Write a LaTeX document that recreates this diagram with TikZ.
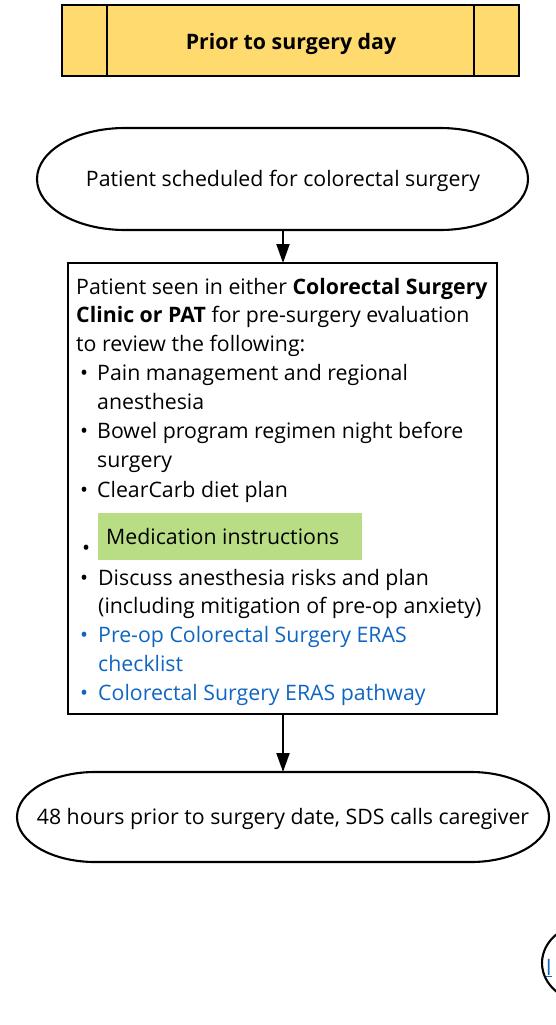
\documentclass[tikz,border=0pt]{standalone}
\usepackage{fontspec}
\setmainfont{Open Sans}
\usetikzlibrary{arrows.meta}
\definecolor{hdr}{HTML}{FFDB6F}
\definecolor{hl}{HTML}{B8DD85}
\definecolor{lnk}{HTML}{0F66C2}
\tikzset{
  txt/.style={anchor=base west, inner sep=0pt, font=\fontsize{21.3}{29}\selectfont},
  ctr/.style={anchor=base, inner sep=0pt, font=\fontsize{21.3}{29}\selectfont},
  blk/.style={line width=2.1pt, draw=black},
  arr/.style={line width=2.1pt, -{Triangle[length=19pt,width=13pt]}},
}
\begin{document}
\begin{tikzpicture}[x=1pt,y=-1pt]
\useasboundingbox (0,0) rectangle (556,1025);
% header
\draw[blk, fill=hdr] (62,5) rectangle (519,76);
\draw[blk] (107,5) -- (107,76);
\draw[blk] (474,5) -- (474,76);
\node[ctr, font=\fontsize{21.3}{29}\selectfont\bfseries] (hdrtxt) at (291,49) {Prior to surgery day};
% terminator 1
\draw[blk] (125,128) -- (440,128) arc[start angle=-90, end angle=90, x radius=88, y radius=51] -- (125,230) arc[start angle=90, end angle=270, x radius=88, y radius=51] -- cycle;
\node[ctr] (t1) at (283,186) {Patient scheduled for colorectal surgery};
\coordinate (t1b) at (283,230);
% box
\draw[blk] (68,263) rectangle (497,714);
\coordinate (boxt) at (283,263);
\coordinate (boxb) at (283,714);
\draw[arr] (t1b) -- (boxt);
\fill[hl] (98,513) rectangle (362,560);
\node[txt] (l1) at (76,294) {Patient seen in either \textbf{Colorectal Surgery}};
\node[txt] (l2) at (76,322) {\textbf{Clinic or PAT} for pre-surgery evaluation};
\node[txt] (l3) at (76,351) {to review the following:};
\node[txt] (b1) at (80,380) {•};
\node[txt] (l4) at (97,380) {Pain management and regional};
\node[txt] (l5) at (97,409) {anesthesia};
\node[txt] (b2) at (80,438) {•};
\node[txt] (l6) at (97,438) {Bowel program regimen night before};
\node[txt] (l7) at (97,467) {surgery};
\node[txt] (b3) at (80,497) {•};
\node[txt] (l8) at (97,497) {ClearCarb diet plan};
\node[txt] (b4) at (82,555) {•};
\node[txt] (l9) at (106,544) {Medication instructions};
\node[txt] (b5) at (80,585) {•};
\node[txt] (l10) at (98,585) {Discuss anesthesia risks and plan};
\node[txt] (l11) at (98,613) {(including mitigation of pre-op anxiety)};
\node[txt, text=lnk] (b6) at (80,642) {•};
\node[txt, text=lnk] (l12) at (98,642) {Pre-op Colorectal Surgery ERAS};
\node[txt, text=lnk] (l13) at (98,671) {checklist};
\node[txt, text=lnk] (b7) at (80,700) {•};
\node[txt, text=lnk] (l14) at (98,700) {Colorectal Surgery ERAS pathway};
% terminator 2
\coordinate (t2t) at (283,772);
\draw[arr] (boxb) -- (t2t);
\draw[blk] (95,772) -- (471,772) arc[start angle=-90, end angle=90, x radius=78, y radius=45] -- (95,862) arc[start angle=90, end angle=270, x radius=78, y radius=45] -- cycle;
\node[ctr] (t2) at (283,824) {48 hours prior to surgery date, SDS calls caregiver};
% partial circle bottom right
\begin{scope}
\clip (0,0) rectangle (556,1025);
\draw[blk] (590,963) ellipse[x radius=48, y radius=40];
\node[txt, text=lnk] (lk) at (546,975) {\underline{l}};
\end{scope}
\end{tikzpicture}
\end{document}
